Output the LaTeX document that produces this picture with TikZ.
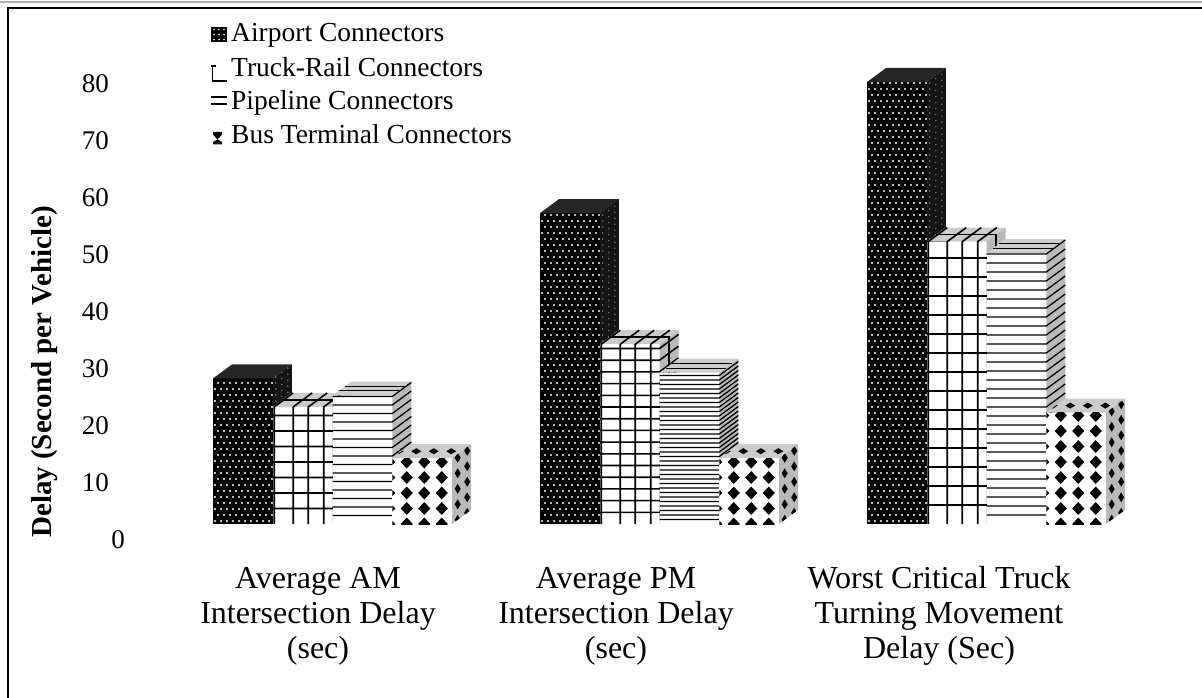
\documentclass[tikz,border=0pt]{standalone}
\usepackage{fontspec}
\setmainfont{Liberation Serif}
\usetikzlibrary{calc}

% one 3-D bar: front face from x0 to x0+59.75, floor at 524, depth (19,-14)
\newcommand{\setbar}[2]{%
  \pgfmathsetmacro{\bxl}{#1}%
  \pgfmathsetmacro{\bxr}{#1+59.75}%
  \pgfmathsetmacro{\bxd}{#1+59.75+19}%
  \pgfmathsetmacro{\byb}{524-5.7*#2}%
  \pgfmathsetmacro{\byf}{524-5.7*#2+14}%
}
\newcommand{\barfaces}[3]{% front, top, side colours
  \fill[#1] (\bxl,524) rectangle (\bxr,\byf);
  \fill[#2] (\bxl,\byf) -- (\bxr,\byf) -- (\bxd,\byb) -- (\bxl+19,\byb) -- cycle;
  \fill[#3] (\bxr,524) -- (\bxr,\byf) -- (\bxd,\byb) -- (\bxd,510) -- cycle;
}
\newcommand{\airbar}[2]{%
  \setbar{#1}{#2}\barfaces{black}{black!85}{black!92}%
  \pgfmathtruncatemacro{\nrow}{(524-\byf)/6}%
  \begin{scope}
    \clip (\bxl,524) rectangle (\bxr,\byf);
    \foreach \j in {0,...,\nrow} \foreach \i in {0,...,9}
      \fill[white] ({\bxl+2+6*\i+3*mod(\j,2)},{521-6*\j}) circle (1.1);
  \end{scope}
  \begin{scope}
    \clip (\bxr,524) -- (\bxr,\byf) -- (\bxd,\byb) -- (\bxd,510) -- cycle;
    \foreach \j in {0,...,\nrow} \foreach \i in {0,1,2}
      \fill[gray] ({\bxr+3+6*\i},{521-6*\j-4.4*\i}) circle (0.8);
  \end{scope}
}
\newcommand{\truckbar}[3]{% x0, value, spacing of the rows
  \setbar{#1}{#2}\barfaces{white}{gray!40}{gray!55}%
  \pgfmathtruncatemacro{\nrow}{(524-\byf)/#3}%
  \begin{scope}[line width=1.6pt]
    \foreach \c in {1.5,20.5,35.5,51}
      \draw (\bxl+\c,524) -- (\bxl+\c,\byf) -- ++(19,-14);
    \foreach \k in {1,...,\nrow}
      \draw (\bxl,524-#3*\k) -- (\bxr,524-#3*\k) -- ++(19,-14);
    \draw (\bxl+9.5,\byf-7) -- (\bxr+9.5,\byf-7) -- (\bxr+9.5,517);
  \end{scope}
}
\newcommand{\pipebar}[3]{% x0, value, spacing of the lines
  \setbar{#1}{#2}\barfaces{white}{gray!40}{gray!55}%
  \pgfmathtruncatemacro{\nrow}{(524-\byf)/#3}%
  \foreach \k in {1,...,\nrow}
    \draw[line width=1.3pt] (\bxl,524-#3*\k) -- (\bxr,524-#3*\k) -- ++(19,-14);
  \draw[line width=1pt] (\bxl+6.3,\byf-4.7) -- (\bxr+6.3,\byf-4.7)
    (\bxl+12.7,\byf-9.3) -- (\bxr+12.7,\byf-9.3);
}
\newcommand{\busbar}[2]{%
  \setbar{#1}{#2}\barfaces{white}{gray!40}{gray!55}%
  \pgfmathtruncatemacro{\nrow}{(524-\byf)/15.5}%
  \begin{scope}
    \clip (\bxl,524) rectangle (\bxr,\byf);
    \foreach \j in {0,...,\nrow} \foreach \i in {0,...,4}
      \fill ({\bxl-3+17.5*\i},{524-15.5*\j}) +(-6,0) -- +(0,6.5) -- +(6,0) -- +(0,-6.5) -- cycle;
  \end{scope}
  \begin{scope}
    \clip (\bxr,524) -- (\bxr,\byf) -- (\bxd,\byb) -- (\bxd,510) -- cycle;
    \foreach \j in {0,...,\nrow} \foreach \u in {0.3,0.8}
      \fill ({\bxr+19*\u},{524-15.5*\j-14*\u}) +(-3,0) -- +(0,5) -- +(3,0) -- +(0,-5) -- cycle;
  \end{scope}
  \begin{scope}
    \clip (\bxl,\byf) -- (\bxr,\byf) -- (\bxd,\byb) -- (\bxl+19,\byb) -- cycle;
    \foreach \i in {0,...,4}
      \fill ({\bxl-3+17.5*\i+9.5},{\byf-7}) +(-5,0) -- +(0,3) -- +(5,0) -- +(0,-3) -- cycle;
  \end{scope}
}

\begin{document}
\begin{tikzpicture}[x=1pt, y=-1pt,
  tick/.style={anchor=east, inner sep=0pt, font=\fontsize{27}{30}\selectfont},
  leg/.style={anchor=base west, inner sep=0pt, font=\fontsize{27.5}{30}\selectfont},
  cat/.style={align=center, inner sep=0pt, font=\fontsize{32}{35}\selectfont}]
\useasboundingbox (0,0) rectangle (1202,698);
% frame
\draw[gray!60, line width=2pt] (0,2) -- (1202,2);
\draw[line width=2.5pt] (8,698) -- (8,8) -- (1202,8);

% y axis
\foreach \v in {10,20,...,80} \node[tick] (t\v) at (109,{540-5.7*\v}) {\v};
\node[tick] (t0) at (125,540) {0};
\node[rotate=90, anchor=base, inner sep=0pt, font=\fontsize{29}{30}\selectfont\bfseries] (ytitle) at (51,372) {Delay (Second per Vehicle)};

% Average AM
\airbar{213}{28}
\truckbar{272.75}{23}{15.5}
\pipebar{332.5}{25}{8.5}
\busbar{392.25}{14}
% Average PM
\airbar{540}{57}
\truckbar{599.75}{34}{11.7}
\pipebar{659.5}{29}{4.5}
\busbar{719.25}{14}
% Worst critical truck turning movement
\airbar{867}{80}
\truckbar{926.75}{52}{19}
\pipebar{986.5}{50}{9}
\busbar{1046.25}{22}

% categories
\node[cat] (amcat) at (318,616) {Average AM\\Intersection Delay\\(sec)};
\node[cat] (pmcat) at (616,616) {Average PM\\Intersection Delay\\(sec)};
\node[cat] (wcat) at (939,616) {Worst Critical Truck\\Turning Movement\\Delay (Sec)};

% legend
\fill[black] (211,27) rectangle (227,42);
\foreach \i in {0,1,2} \foreach \j in {0,1,2} \fill[white] (214+5*\i,29.5+5*\j) circle (0.9);
\draw[line width=1.4pt] (211,66) -- (216,66) (212.5,66) -- (212.5,81) -- (227,81);
\draw[line width=1.4pt] (211,97) -- (227,97) (211,104) -- (227,104);
\fill (213,132) -- (222,132) -- (222,134.5) -- (217.5,139.5) -- (222,142) -- (222,144.5)
  -- (213,144.5) -- (213,142) -- (217.5,139.5) -- (213,134.5) -- cycle;
\node[leg] (lair) at (231,42) {Airport Connectors};
\node[leg] (ltruck) at (231,77) {Truck-Rail Connectors};
\node[leg] (lpipe) at (231,110) {Pipeline Connectors};
\node[leg] (lbus) at (231,144) {Bus Terminal Connectors};
\end{tikzpicture}
\end{document}
